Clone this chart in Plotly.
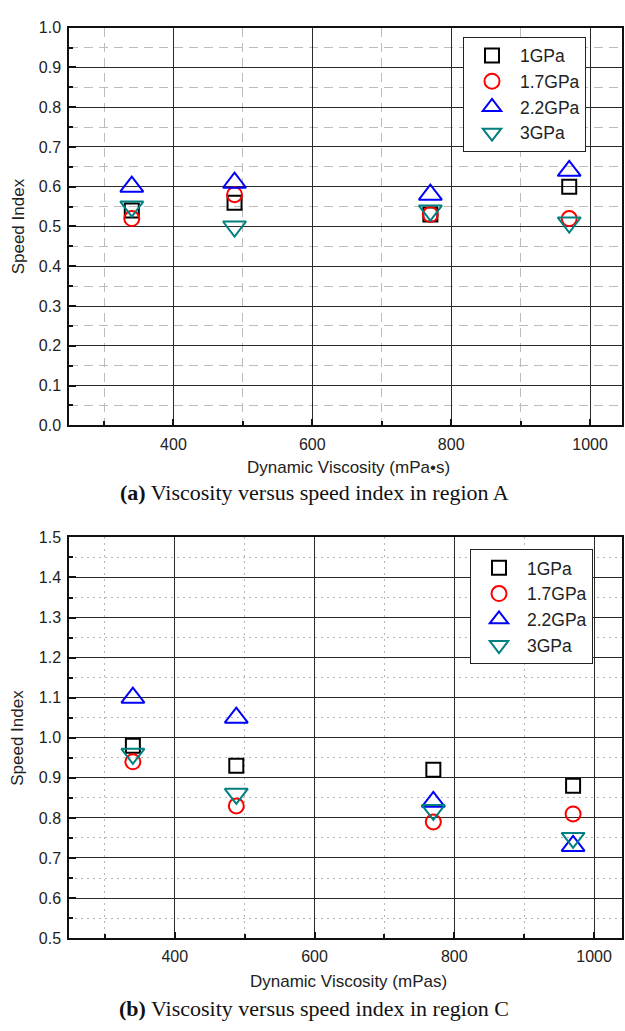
import plotly.graph_objects as go

# Dynamic viscosity (mPa·s) of the tested lubricants
viscosity = [340, 488, 770, 970]

# Speed index in region A, per contact pressure
region_a_1gpa = [0.54, 0.56, 0.53, 0.60]
region_a_17gpa = [0.52, 0.58, 0.53, 0.52]
region_a_22gpa = [0.60, 0.61, 0.58, 0.64]
region_a_3gpa = [0.55, 0.50, 0.54, 0.51]

# Speed index in region C, per contact pressure
region_c_1gpa = [0.98, 0.93, 0.92, 0.88]
region_c_17gpa = [0.94, 0.83, 0.79, 0.81]
region_c_22gpa = [1.10, 1.05, 0.84, 0.73]
region_c_3gpa = [0.96, 0.86, 0.82, 0.75]

series_names = ["1GPa", "1.7GPa", "2.2GPa", "3GPa"]
symbols = ["square-open", "circle-open", "triangle-up-open", "triangle-down-open"]
colors = ["#000000", "#ff0000", "#0000ff", "#008080"]
sizes = [14, 15, 20, 20]

W, H = 625, 1031
SANS = "Liberation Sans, Arial, sans-serif"
SERIF = "Liberation Serif, Times New Roman, serif"

fig = go.Figure()

panels = [
    ([region_a_1gpa, region_a_17gpa, region_a_22gpa, region_a_3gpa], "x", "y", "legend"),
    ([region_c_1gpa, region_c_17gpa, region_c_22gpa, region_c_3gpa], "x2", "y2", "legend2"),
]
for values, xa, ya, lg in panels:
    for name, vals, sym, col, sz in zip(series_names, values, symbols, colors, sizes):
        fig.add_trace(go.Scatter(
            x=viscosity, y=vals, mode="markers", name=name,
            xaxis=xa, yaxis=ya, legend=lg,
            marker=dict(symbol=sym, size=sz, color=col, line=dict(width=2, color=col)),
        ))


def px_x(p):
    return p / W


def px_y(p):
    return 1 - p / H


x_dom = [px_x(69.3), px_x(622)]
common_x = dict(
    domain=x_dom, tickvals=[400, 600, 800, 1000], ticks="inside", ticklen=6,
    tickwidth=1.5, tickcolor="#111", showline=True, linecolor="#111", linewidth=2,
    mirror=True, showgrid=True, gridcolor="#2a2a2a", gridwidth=1.2, zeroline=False,
    tickfont=dict(family=SANS, size=16, color="#222"), ticklabelstandoff=3,
)
common_y = dict(
    ticks="inside", ticklen=7, tickwidth=1.5, tickcolor="#111", showline=True,
    linecolor="#111", linewidth=2, mirror=True, showgrid=True, gridcolor="#2a2a2a",
    gridwidth=1.2, zeroline=False, dtick=0.1, tickformat=".1f",
    tickfont=dict(family=SANS, size=16, color="#222"), ticklabelstandoff=3,
)
minor_a = dict(ticks="inside", ticklen=4, tickcolor="#111", showgrid=True,
               gridcolor="#bcbcbc", griddash="9px,6px", gridwidth=1)
minor_c = dict(ticks="inside", ticklen=4, tickcolor="#111", showgrid=True,
               gridcolor="#b4b4b4", griddash="2px,4px", gridwidth=1)

legend_style = dict(xanchor="left", yanchor="top", bgcolor="white",
                    bordercolor="#222", borderwidth=1,
                    font=dict(family=SANS, size=17.5, color="#222"),
                    tracegroupgap=0, itemwidth=46)

fig.update_layout(
    width=W, height=H, margin=dict(l=0, r=0, t=0, b=0),
    paper_bgcolor="white", plot_bgcolor="white", showlegend=True,
    xaxis=dict(common_x, range=[250, 1046], anchor="y", minor=dict(minor_a, dtick=100)),
    yaxis=dict(common_y, range=[0, 1.0], anchor="x",
               domain=[px_y(424.3), px_y(20)], minor=dict(minor_a, dtick=0.05)),
    xaxis2=dict(common_x, range=[249, 1040], anchor="y2", minor=dict(minor_c, dtick=100)),
    yaxis2=dict(common_y, range=[0.5, 1.5], anchor="x2",
                domain=[px_y(945.7), px_y(538.3)], minor=dict(minor_c, dtick=0.05)),
    legend=dict(legend_style, x=px_x(463), y=px_y(29)),
    legend2=dict(legend_style, x=px_x(470), y=px_y(550)),
)

annotations = [
    dict(text="Speed Index", x=px_x(18), y=px_y(222), textangle=-90,
         font=dict(family=SANS, size=17, color="#222")),
    dict(text="Dynamic Viscosity (mPa•s)", x=px_x(348), y=px_y(467),
         font=dict(family=SANS, size=17, color="#222")),
    dict(text="<b>(a)</b> Viscosity versus speed index in region A", x=px_x(314),
         y=px_y(493), font=dict(family=SERIF, size=22, color="#111")),
    dict(text="Speed Index", x=px_x(18), y=px_y(742), textangle=-90,
         font=dict(family=SANS, size=17, color="#222")),
    dict(text="Dynamic Viscosity (mPas)", x=px_x(348), y=px_y(990),
         font=dict(family=SANS, size=17, color="#222")),
    dict(text="<b>(b)</b> Viscosity versus speed index in region C", x=px_x(314),
         y=px_y(1017), font=dict(family=SERIF, size=22, color="#111")),
]
for a in annotations:
    a.update(xref="paper", yref="paper", showarrow=False, xanchor="center", yanchor="middle")
fig.update_layout(annotations=annotations)

fig.write_html("out.html")
